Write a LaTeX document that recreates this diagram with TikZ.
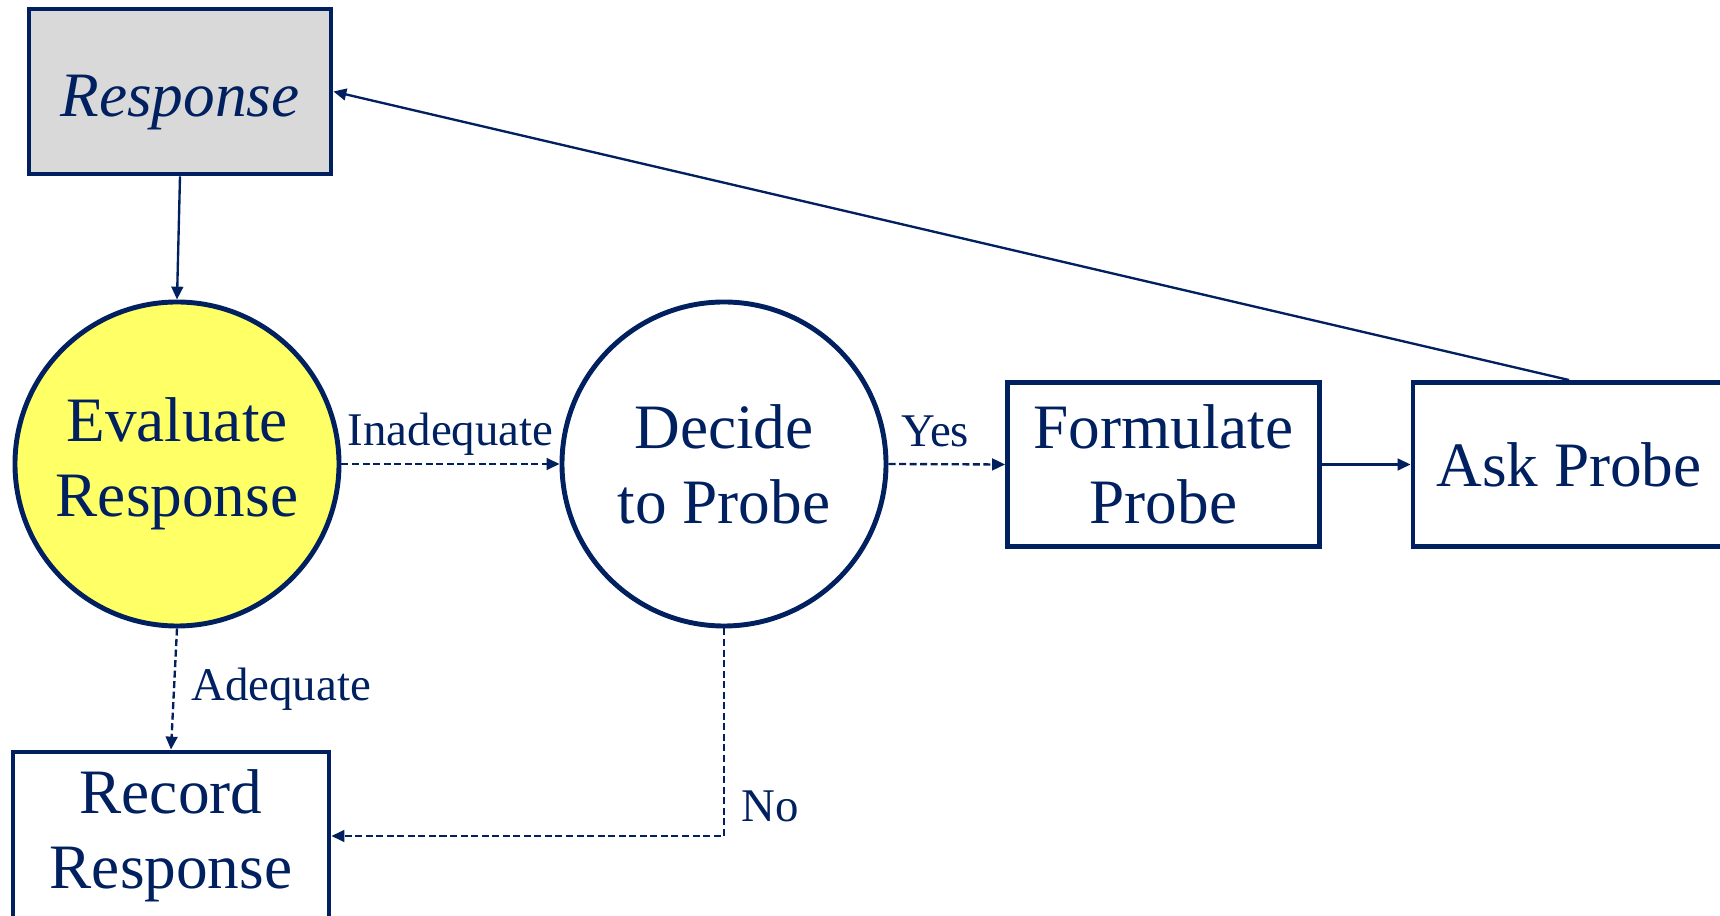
\documentclass[tikz,border=0pt]{standalone}
\usepackage{fontspec}
\setmainfont{Liberation Serif}
\usetikzlibrary{positioning,arrows.meta}
\definecolor{navy}{RGB}{0,32,96}
\definecolor{evalyellow}{RGB}{255,255,102}
\definecolor{respgray}{RGB}{217,217,217}

\begin{document}
\begin{tikzpicture}[x=0.015cm, y=-0.015cm,
  >={Triangle[length=5.5pt,width=5pt]},
  font=\fontsize{27}{32}\selectfont, text=navy,
  box/.style={draw=navy, line width=2.1pt, rectangle, align=center, inner sep=0pt},
  bubble/.style={draw=navy, line width=2.1pt, circle, align=center,
                 minimum size=4.86cm, inner sep=0pt},
  flow/.style={navy, line width=1pt, ->},
  maybe/.style={flow, dash pattern=on 3pt off 1.5pt},
  tag/.style={font=\fontsize{20}{24}\selectfont, text=navy,
              text height=0.7em, text depth=0.22em}]

  % --- Frame (the page cuts the outer boxes) ---
  \clip (0,0) rectangle (1720,916);

  % --- Nodes ---
  \node[box, fill=respgray, minimum width=4.53cm, minimum height=2.475cm]
    (resp) at (180,91.5) {\raisebox{-4.5pt}[\height][\depth]{\itshape Response}};
  \node[bubble, fill=evalyellow] (eval) at (177,464) {Evaluate\\Response};
  \node[bubble] (decide) at (724,464) {Decide\\to Probe};
  \node[box, minimum width=4.68cm, minimum height=2.46cm]
    (form) at (1163.5,464.5) {Formulate\\Probe};
  \node[box, minimum width=4.68cm, minimum height=2.46cm]
    (ask) at (1569,464.5) {Ask Probe};
  \node[box, minimum width=4.74cm, minimum height=2.52cm]
    (rec) at (171,836) {Record\\Response};

  % --- Connectors ---
  \draw[flow] (resp.south) -- (eval.north);
  \draw[maybe] (eval.east) -- node[tag, above, inner sep=5pt] {Inadequate} (decide.west);
  \draw[maybe] (decide.east) -- node[tag, above, pos=0.4, inner sep=5pt] {Yes} (form.west);
  \draw[flow] (form.east) -- (ask.west);
  \draw[flow] (ask.north) -- (resp.east);
  \draw[maybe] (eval.south) -- node[tag, right, pos=0.545, inner sep=7pt] {Adequate} (rec.north);
  \draw[maybe] (decide.south) |- node[tag, right, pos=0.452, inner sep=7pt] {No} (rec.east);

\end{tikzpicture}
\end{document}
